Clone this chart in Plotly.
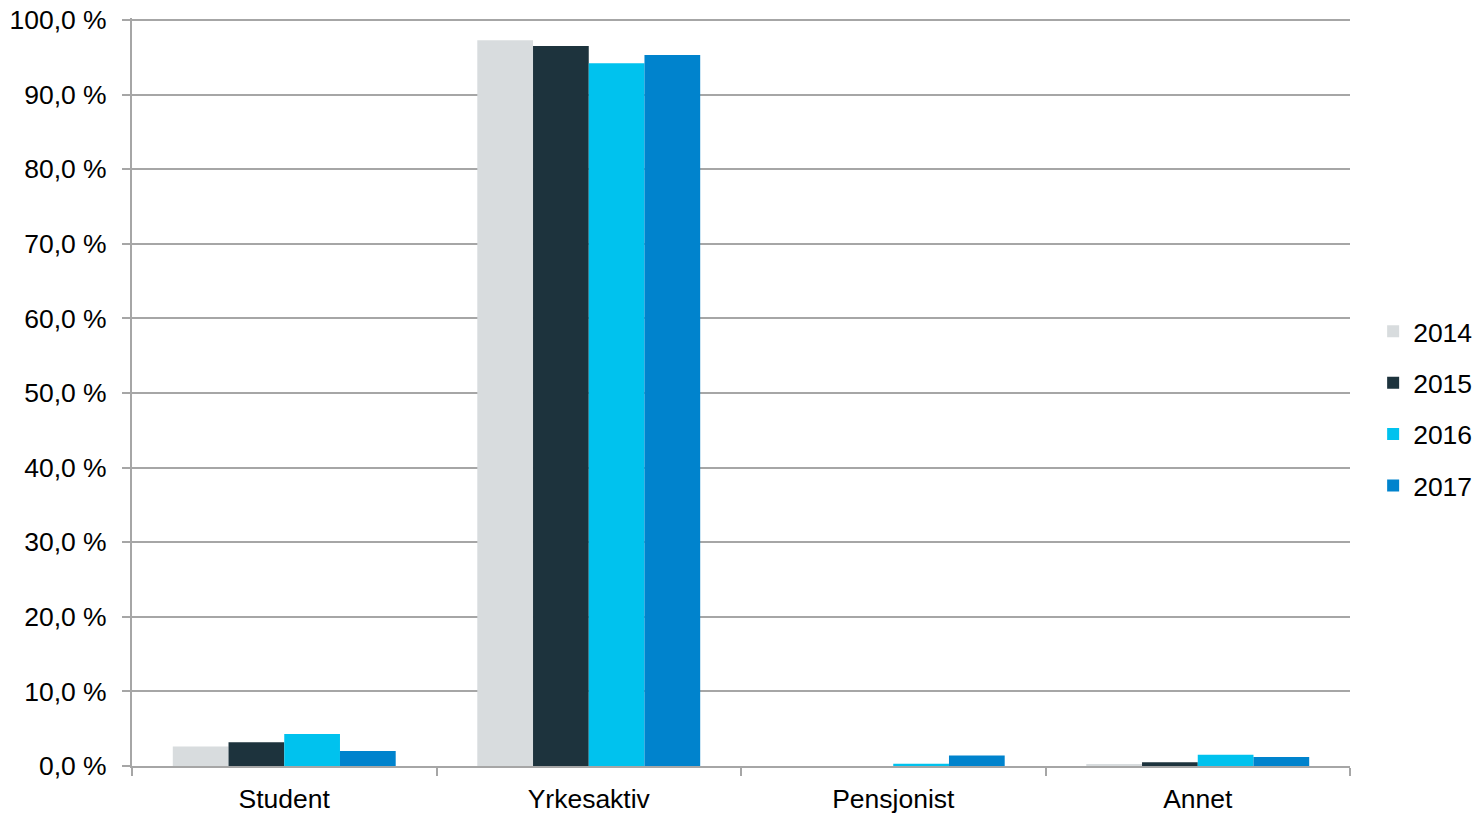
import plotly.graph_objects as go

categories = ["Student", "Yrkesaktiv", "Pensjonist", "Annet"]
years = ["2014", "2015", "2016", "2017"]
v2014 = [2.6, 97.3, 0.0, 0.2]
v2015 = [3.2, 96.5, 0.0, 0.5]
v2016 = [4.3, 94.2, 0.3, 1.5]
v2017 = [2.0, 95.3, 1.4, 1.2]
colors = ["#D8DCDE", "#1D333D", "#00C2EE", "#0083CD"]
tick_vals = [0, 10, 20, 30, 40, 50, 60, 70, 80, 90, 100]
tick_text = [f"{v},0 %" for v in tick_vals]

fig = go.Figure()
for name, vals, col in zip(years, [v2014, v2015, v2016, v2017], colors):
    fig.add_trace(go.Bar(x=categories, y=vals, name=name, legendgroup=name,
                         marker=dict(color=col, line=dict(width=0))))

fig.update_layout(
    width=1482, height=814,
    paper_bgcolor="white", plot_bgcolor="white",
    margin=dict(l=124, r=140, t=10, b=56),
    barmode="group", bargap=0.268, bargroupgap=0,
    font=dict(family="Liberation Sans, Arial, sans-serif", size=26.5, color="#000000"),
    legend=dict(x=1.019, y=0.478, xanchor="left", yanchor="middle",
                font=dict(size=26.5), tracegroupgap=14, itemwidth=30,
                bgcolor="rgba(0,0,0,0)"),
    xaxis=dict(showline=True, linecolor="#A6A6A6", linewidth=2,
               ticks="outside", tickson="boundaries", ticklen=8,
               tickcolor="#A6A6A6", tickwidth=2, showgrid=False,
               automargin=False, ticklabelstandoff=8),
    yaxis=dict(range=[0, 100.27], tickvals=tick_vals, ticktext=tick_text,
               showline=True, linecolor="#A6A6A6", linewidth=2,
               ticks="outside", ticklen=8, tickcolor="#A6A6A6", tickwidth=2,
               showgrid=True, gridcolor="#A6A6A6", gridwidth=2,
               zeroline=False, automargin=False, ticklabelstandoff=10,
               ticklabeloverflow="allow"),
)
fig.write_html("out.html")
